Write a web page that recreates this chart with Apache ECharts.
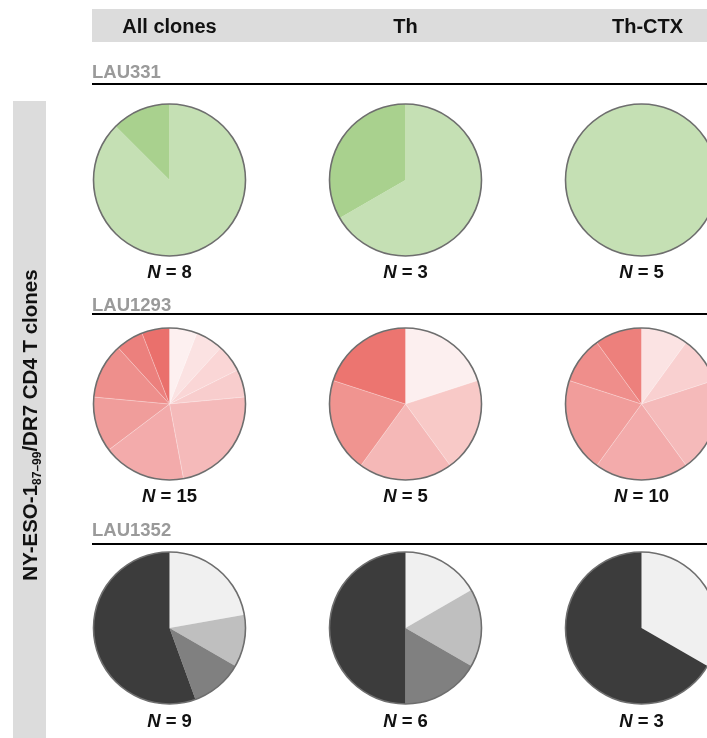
<!DOCTYPE html>
<html>
<head>
<meta charset="utf-8">
<script src="https://cdn.jsdelivr.net/npm/echarts@6/dist/echarts.min.js"></script>
<style>
html,body{margin:0;padding:0;background:#fff;}
#chart{width:707px;height:738px;}
</style>
</head>
<body>
<div id="chart"></div>
<script>
// ---- data ----
const columns = ['All clones', 'Th', 'Th-CTX'];
const donors = ['LAU331', 'LAU1293', 'LAU1352'];
const nValues = [[8, 3, 5], [15, 5, 10], [9, 6, 3]];

const lau331All = [7, 1];
const lau331Th = [2, 1];
const lau331Ctx = [5];

const lau1293All = [1, 1, 1, 1, 4, 3, 2, 2, 1, 1];
const lau1293Th = [1, 1, 1, 1, 1];
const lau1293Ctx = [1, 1, 2, 2, 2, 1, 1];

const lau1352All = [2, 1, 1, 5];
const lau1352Th = [1, 1, 1, 3];
const lau1352Ctx = [1, 2];

const yTitle = 'NY-ESO-1';
const ySub = '87\u201399';
const yTitleRest = '/DR7 CD4 T clones';

// ---- styles ----
const greenCols = {
  all: ['#c5e0b4', '#a9d18e'],
  th: ['#c5e0b4', '#a9d18e'],
  ctx: ['#c5e0b4']
};
const redCols = {
  all: ['#fdf0f0', '#fbe2e2', '#fad6d6', '#f8cdcd', '#f5baba', '#f3abab', '#f09d9b', '#ee8f8c', '#ec807d', '#ea706c'],
  th: ['#fcefef', '#f8c9c7', '#f5b8b7', '#f09490', '#ec7570'],
  ctx: ['#fbe3e3', '#f9d0d0', '#f5baba', '#f3abab', '#f19d9b', '#ef8e8b', '#ed807c']
};
const grayCols = {
  all: ['#f0f0f0', '#bfbfbf', '#808080', '#3c3c3c'],
  th: ['#f0f0f0', '#bfbfbf', '#808080', '#3c3c3c'],
  ctx: ['#f0f0f0', '#3c3c3c']
};

const grid = [
  [[lau331All, greenCols.all], [lau331Th, greenCols.th], [lau331Ctx, greenCols.ctx]],
  [[lau1293All, redCols.all], [lau1293Th, redCols.th], [lau1293Ctx, redCols.ctx]],
  [[lau1352All, grayCols.all], [lau1352Th, grayCols.th], [lau1352Ctx, grayCols.ctx]]
];

const colX = [169.5, 405.5, 641.5];
const rowY = [180, 404, 628];
const R = 76;
const labelY = [72, 305, 530];
const lineY = [84, 314, 544];
const nY = [273, 497, 722];
const FONT = 'Liberation Sans, Arial, Helvetica, sans-serif';

const series = [];
grid.forEach((row, ri) => {
  row.forEach((cell, ci) => {
    const [vals, cols] = cell;
    series.push({
      type: 'pie',
      center: [colX[ci], rowY[ri]],
      radius: [0, R],
      startAngle: 90,
      clockwise: true,
      silent: true,
      animation: false,
      label: { show: false },
      labelLine: { show: false },
      itemStyle: {
        borderWidth: ri === 1 ? 0.5 : 0,
        borderColor: 'rgba(255,255,255,0.45)'
      },
      data: vals.map((v, i) => ({ value: v, itemStyle: { color: cols[i] } }))
    });
    // outline ring
    series.push({
      type: 'pie',
      center: [colX[ci], rowY[ri]],
      radius: [R - 0.8, R + 0.8],
      silent: true,
      animation: false,
      label: { show: false },
      labelLine: { show: false },
      itemStyle: { color: '#6e6e6e', borderWidth: 0 },
      data: [{ value: 1 }]
    });
  });
});

const graphic = [];
// header bar
graphic.push({ type: 'rect', shape: { x: 92, y: 9, width: 615, height: 33 }, style: { fill: '#dcdcdc' }, silent: true });
columns.forEach((c, ci) => {
  graphic.push({
    type: 'text', x: colX[ci] + (ci === 2 ? 6 : 0), y: 27.5,
    style: { text: c, font: 'bold 20px ' + FONT, fill: '#111', textAlign: 'center', textVerticalAlign: 'middle' }
  });
});
// left bar
graphic.push({ type: 'rect', shape: { x: 13, y: 101, width: 33, height: 637 }, style: { fill: '#dcdcdc' }, silent: true });
graphic.push({
  type: 'text', x: 31, y: 425, rotation: Math.PI / 2,
  style: {
    text: '{a|' + yTitle + '}{s|' + ySub + '}{a|' + yTitleRest + '}',
    textAlign: 'center', textVerticalAlign: 'middle',
    rich: {
      a: { font: 'bold 20.5px ' + FONT, fill: '#111', lineHeight: 26, verticalAlign: 'middle' },
      s: { font: 'bold 12px ' + FONT, fill: '#111', lineHeight: 26, verticalAlign: 'bottom' }
    }
  }
});
// donor labels and rules
donors.forEach((d, ri) => {
  graphic.push({
    type: 'text', x: 92, y: labelY[ri] + 0.5,
    style: { text: d, font: 'bold 18.5px ' + FONT, fill: '#9a9a9a', textAlign: 'left', textVerticalAlign: 'middle' }
  });
  graphic.push({
    type: 'line', shape: { x1: 92, y1: lineY[ri], x2: 707, y2: lineY[ri] },
    style: { stroke: '#000', lineWidth: 2 }
  });
});
// N labels
nValues.forEach((row, ri) => {
  row.forEach((n, ci) => {
    graphic.push({
      type: 'text', x: colX[ci], y: nY[ri],
      style: {
        text: '{i|N}{b| = ' + n + '}',
        textAlign: 'center', textVerticalAlign: 'middle',
        rich: {
          i: { font: 'italic bold 18.5px ' + FONT, fill: '#111' },
          b: { font: 'bold 18.5px ' + FONT, fill: '#111' }
        }
      }
    });
  });
});

const chart = echarts.init(document.getElementById('chart'), null, { renderer: 'canvas' });
chart.setOption({
  backgroundColor: '#fff',
  animation: false,
  series: series,
  graphic: graphic
});
</script>
</body>
</html>
